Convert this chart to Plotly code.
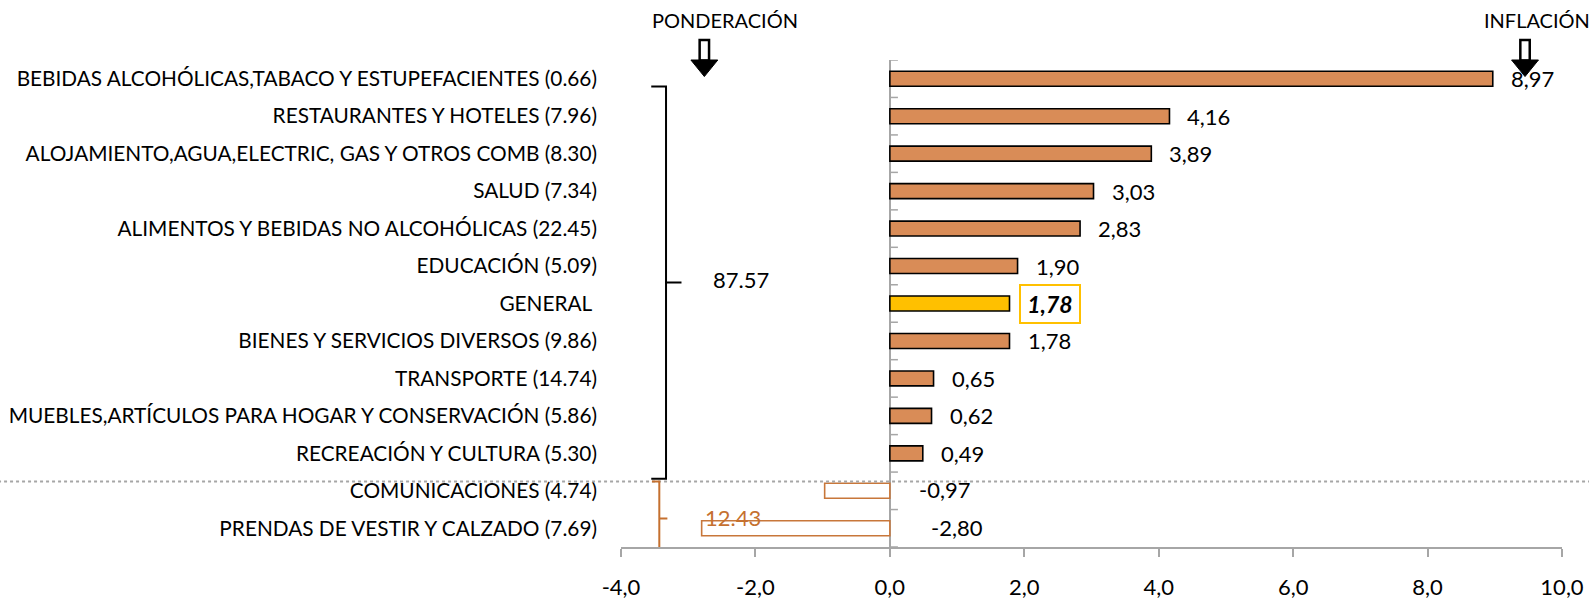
import plotly.graph_objects as go

# ---------------- data ----------------
categories = [
    "BEBIDAS ALCOHÓLICAS,TABACO Y ESTUPEFACIENTES (0.66)",
    "RESTAURANTES Y HOTELES (7.96)",
    "ALOJAMIENTO,AGUA,ELECTRIC, GAS Y OTROS COMB (8.30)",
    "SALUD (7.34)",
    "ALIMENTOS Y BEBIDAS NO ALCOHÓLICAS (22.45)",
    "EDUCACIÓN (5.09)",
    "GENERAL ",
    "BIENES Y SERVICIOS DIVERSOS (9.86)",
    "TRANSPORTE (14.74)",
    "MUEBLES,ARTÍCULOS PARA HOGAR Y CONSERVACIÓN (5.86)",
    "RECREACIÓN Y CULTURA (5.30)",
    "COMUNICACIONES (4.74)",
    "PRENDAS DE VESTIR Y CALZADO (7.69)",
]
inflation = [8.97, 4.16, 3.89, 3.03, 2.83, 1.90, 1.78, 1.78, 0.65, 0.62, 0.49, -0.97, -2.80]
x_ticks = [-4, -2, 0, 2, 4, 6, 8, 10]
x_tick_labels = ["-4,0", "-2,0", "0,0", "2,0", "4,0", "6,0", "8,0", "10,0"]
weight_positive = "87.57"
weight_negative = "12.43"
general_label = "GENERAL "

# ---------------- styles ----------------
FONT = "Lato"
FS = 22
POS_FILL = "#D98C57"
GEN_FILL = "#FFC000"
NEG_LINE = "#C8773A"
BRACKET_ORANGE = "#C5702F"
GREY = "#A6A6A6"

ys = list(range(len(categories)))
fills, lines = [], []
for c, v in zip(categories, inflation):
    if c == general_label:
        fills.append(GEN_FILL); lines.append("#000000")
    elif v >= 0:
        fills.append(POS_FILL); lines.append("#000000")
    else:
        fills.append("#FFFFFF"); lines.append(NEG_LINE)

fig = go.Figure()
fig.add_trace(go.Bar(
    x=inflation, y=ys, orientation="h", width=0.4,
    marker=dict(color=fills, line=dict(color=lines, width=1.6)),
    hoverinfo="skip", showlegend=False,
))

annotations = []
for c, v, y in zip(categories, inflation, ys):
    txt = f"{v:.2f}".replace(".", ",")
    if c == general_label:
        annotations.append(dict(
            x=v, y=y, xref="x", yref="y", text=f"<b><i>{txt}</i></b>", showarrow=False,
            xanchor="left", xshift=9, yshift=0, font=dict(family=FONT, size=FS + 1, color="#000"),
            bordercolor=GEN_FILL, borderwidth=2, borderpad=4, width=50, height=28,
        ))
    elif v >= 0:
        annotations.append(dict(
            x=v, y=y, xref="x", yref="y", text=txt, showarrow=False,
            xanchor="left", xshift=16, yshift=0, font=dict(family=FONT, size=FS, color="#000"),
        ))
    else:
        annotations.append(dict(
            x=0, y=y, xref="x", yref="y", text=txt, showarrow=False,
            xanchor="left", xshift=27 if v > -2 else 39, yshift=1,
            font=dict(family=FONT, size=FS, color="#000"),
        ))

# weight annotations
annotations.append(dict(x=-2.21, y=5.35, xref="x", yref="y", text=weight_positive, showarrow=False,
                        font=dict(family=FONT, size=FS, color="#000")))
annotations.append(dict(x=-2.33, y=11.8, xref="x", yref="y", text=weight_negative, showarrow=False,
                        yshift=3, font=dict(family=FONT, size=FS, color=BRACKET_ORANGE)))
annotations.append(dict(x=-2.45, y=1.082, xref="x", yref="paper", yanchor="middle", text="PONDERACIÓN",
                        showarrow=False, font=dict(family=FONT, size=20, color="#000")))
annotations.append(dict(x=9.63, y=1.082, xref="x", yref="paper", yanchor="middle", text="INFLACIÓN",
                        showarrow=False, font=dict(family=FONT, size=20, color="#000")))

shapes = []
# category boundary ticks on the zero axis
for i in range(len(categories) + 1):
    shapes.append(dict(type="line", xref="x", yref="y", x0=0, x1=0.12, y0=i - 0.5, y1=i - 0.5,
                       line=dict(color=GREY, width=1.5)))
# dotted separator
shapes.append(dict(type="line", xref="paper", yref="y", x0=-0.662, x1=1.03, y0=10.75, y1=10.75,
                   line=dict(color=GREY, width=2, dash="dot")))
# brackets
shapes.append(dict(type="path", xref="x", yref="y",
                   path="M -3.55 0.21 L -3.33 0.21 L -3.33 5.44 L -3.10 5.44 M -3.33 5.44 L -3.33 10.68 L -3.55 10.68",
                   line=dict(color="#000000", width=2)))
shapes.append(dict(type="path", xref="x", yref="y",
                   path="M -3.54 10.75 L -3.43 10.75 L -3.43 11.74 L -3.31 11.74 M -3.43 11.74 L -3.43 12.76 L -3.54 12.76",
                   line=dict(color=BRACKET_ORANGE, width=2)))
# down arrows
for ax in (-2.76, 9.45):
    shapes.append(dict(type="rect", xref="x", yref="paper", x0=ax - 0.07, x1=ax + 0.07, y0=0.999, y1=1.041,
                       fillcolor="#FFFFFF", line=dict(color="#000000", width=2.5)))
    shapes.append(dict(type="path", xref="x", yref="paper",
                       path=f"M {ax-0.2} 1.0 L {ax+0.2} 1.0 L {ax} 0.966 Z",
                       fillcolor="#000000", line=dict(color="#000000", width=1)))

fig.update_layout(
    width=1589, height=599,
    margin=dict(l=621, r=27, t=60, b=52, autoexpand=False),
    paper_bgcolor="#FFFFFF", plot_bgcolor="#FFFFFF",
    bargap=0.6,
    xaxis=dict(range=[-4, 10], tickvals=x_ticks, ticktext=x_tick_labels, automargin=False,
               showgrid=False, zeroline=True, zerolinecolor=GREY, zerolinewidth=1.5,
               showline=True, linecolor=GREY, linewidth=1.5,
               ticks="outside", ticklen=8, tickcolor=GREY, tickwidth=1.5,
               ticklabelstandoff=12,
               tickfont=dict(family=FONT, size=22, color="#000")),
    yaxis=dict(range=[12.5, -0.5], tickvals=ys, ticktext=categories, automargin=False,
               showgrid=False, zeroline=False, showline=False, ticks="",
               ticklabelstandoff=23,
               tickfont=dict(family=FONT, size=20.8, color="#000")),
    annotations=annotations,
    shapes=shapes,
    font=dict(family=FONT),
)

fig.write_html("out.html", config={"displayModeBar": False},
               post_script="document.body.style.margin='0';document.body.style.overflow='hidden';")
